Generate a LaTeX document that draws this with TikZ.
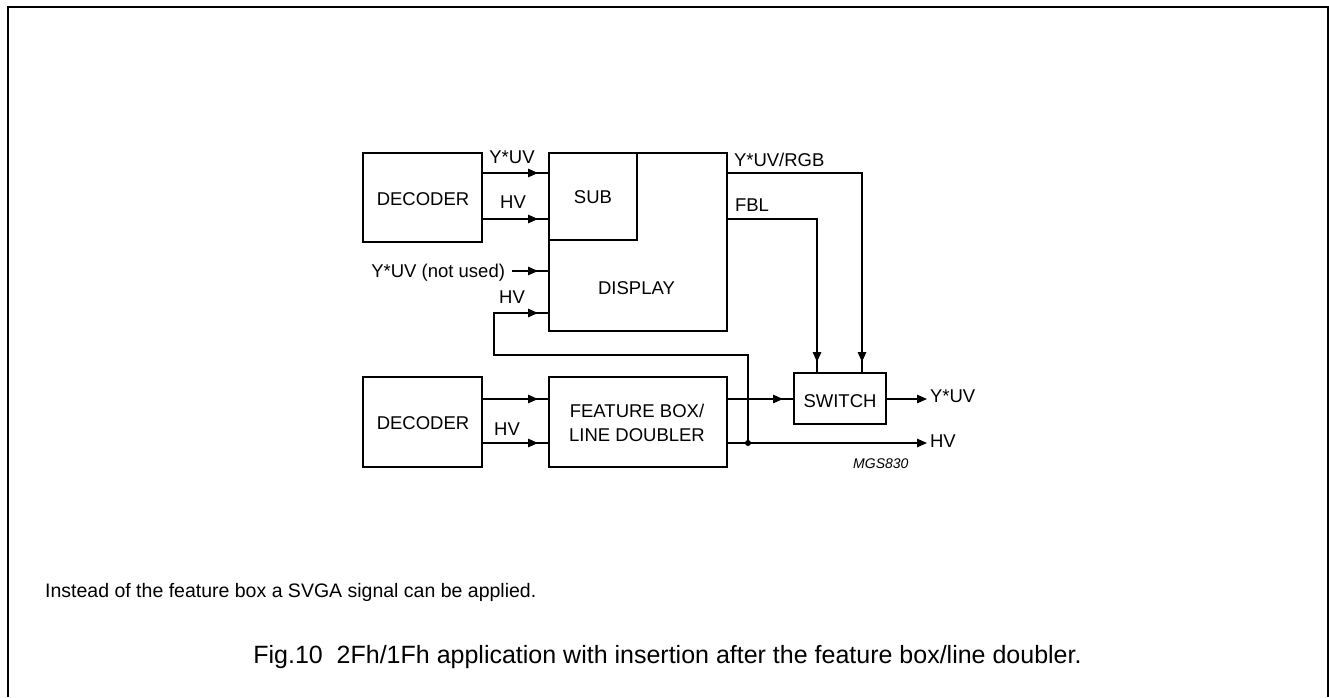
\documentclass[tikz,border=0pt]{standalone}
\usepackage{fontspec}
\setmainfont{Liberation Sans}
\usetikzlibrary{arrows.meta,decorations.markings,calc}
\tikzset{
  blk/.style={draw,line width=2.2pt,inner sep=0pt,outer sep=0pt},
  conn/.style={line width=1.3pt},
  tri/.tip={Triangle[length=10pt,width=8.5pt]},
  midarr/.style={conn,postaction={decorate},decoration={markings,mark=at position -11pt with {\arrow{tri}}}},
  endarr/.style={conn,-{tri}},
  lbl/.style={inner sep=0pt,outer sep=0pt,anchor=base,font=\fontsize{18.5}{22}\selectfont},
  lblw/.style={lbl,anchor=base west},
  lble/.style={lbl,anchor=base east},
}
\begin{document}
\begin{tikzpicture}[x=1pt,y=-1pt]
\useasboundingbox (0,0) rectangle (1329,697);
\draw[line width=2pt] (7.5,697) -- (7.5,7) -- (1328,7) -- (1328,697);
% levels
\coordinate (r1) at (0,173);
\coordinate (r2) at (0,219);
\coordinate (r3) at (0,271);
\coordinate (r4) at (0,313);
\coordinate (r5) at (0,355);
\coordinate (r6) at (0,399);
\coordinate (r7) at (0,443);
\coordinate (fb) at (494,0);
% boxes
\node[blk,minimum width=119pt,minimum height=89pt] (dec1) at (422.5,197.5) {};
\node[blk,minimum width=178pt,minimum height=178pt] (disp) at (638,242) {};
\node[blk,minimum width=88pt,minimum height=87pt] (sub) at (593,196.5) {};
\node[blk,minimum width=119pt,minimum height=90pt] (dec2) at (422.5,422) {};
\node[blk,minimum width=178pt,minimum height=90pt] (feat) at (638,422) {};
\node[blk,minimum width=92pt,minimum height=51pt] (sw) at (840,398.5) {};
% box texts
\node[lbl] (t1) at (423,205) {DECODER};
\node[lbl] (t2) at (593,203) {SUB};
\node[lbl] (t3) at (636.5,294) {DISPLAY};
\node[lbl] (t4) at (423,429) {DECODER};
\node[lbl] (t5) at (637,417) {FEATURE BOX/};
\node[lbl] (t6) at (637,441) {LINE DOUBLER};
\node[lbl] (t7) at (840,407) {SWITCH};
% labels
\node[lbl] (l1) at (512,163) {Y*UV};
\node[lbl] (l2) at (513,208) {HV};
\node[lble] (nu) at (505,277) {Y*UV (not used)};
\node[lbl] (l4) at (512,303) {HV};
\node[lblw] (l5) at (734,166) {Y*UV/RGB};
\node[lblw] (l6) at (735,211) {FBL};
\node[lbl] (l7) at (507,435) {HV};
\node[lblw] (l8) at (930,402) {Y*UV};
\node[lblw] (l9) at (930,447) {HV};
\node[inner sep=0pt,anchor=base west,font=\fontsize{14}{16}\selectfont\itshape] (mgs) at (853,468) {MGS830};
% connectors
\draw[midarr] (dec1.east |- r1) -- (disp.west |- r1);
\draw[midarr] (dec1.east |- r2) -- (disp.west |- r2);
\draw[midarr] ([xshift=7pt]nu.east |- r3) -- (disp.west |- r3);
\coordinate (jd) at (748,443);
\draw[midarr] (jd) -- (jd |- r5) -- (fb |- r5) -- (fb |- r4) -- (disp.west |- r4);
\draw[midarr] (disp.east |- r1) -| ([xshift=22pt]sw.north);
\draw[midarr] (disp.east |- r2) -| ([xshift=-23pt]sw.north);
\draw[midarr] (dec2.east |- r6) -- (feat.west |- r6);
\draw[midarr] (dec2.east |- r7) -- (feat.west |- r7);
\draw[midarr] (feat.east |- r6) -- (sw.west |- r6);
\coordinate (o1) at (927,399);
\coordinate (o2) at (927,443);
\draw[endarr] (sw.east |- r6) -- (o1);
\draw[endarr] (feat.east |- r7) -- (o2);
\fill (jd) circle (3pt);
% texts
\node[inner sep=0pt,anchor=base west,font=\fontsize{19.5}{23}\selectfont] (note) at (45,597) {Instead of the feature box a SVGA signal can be applied.};
\node[inner sep=0pt,anchor=base,font=\fontsize{25}{30}\selectfont] (cap) at (667.5,663) {Fig.10\ \ 2Fh/1Fh application with insertion after the feature box/line doubler.};
\end{tikzpicture}
\end{document}
